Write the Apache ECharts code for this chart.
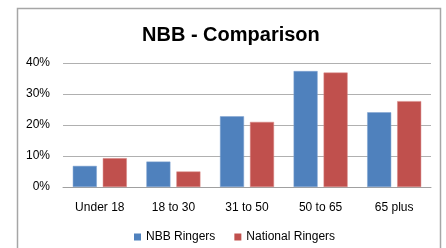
<!DOCTYPE html>
<html><head><meta charset="utf-8">
<script src="https://cdn.jsdelivr.net/npm/echarts@6/dist/echarts.min.js"></script>
<style>html,body{margin:0;padding:0;background:#fff}#c{width:446px;height:248px}</style>
</head><body><div id="c"></div>
<script>
const categories = ['Under 18', '18 to 30', '31 to 50', '50 to 65', '65 plus'];
const nbbRingers = [6.8, 8.2, 22.8, 37.4, 24.1];
const nationalRingers = [9.3, 5.0, 21.0, 36.9, 27.7];
const yTicks = [0, 10, 20, 30, 40];
const FONT = 'Liberation Sans';

const chart = echarts.init(document.getElementById('c'), null, {renderer: 'canvas'});
chart.setOption({
  animation: false,
  backgroundColor: '#fff',
  textStyle: {fontFamily: FONT},
  title: {
    text: 'NBB - Comparison', left: 137, top: 20,
    textStyle: {fontFamily: FONT, fontSize: 20, fontWeight: 'bold', color: '#000'}
  },
  graphic: [{
    type: 'rect', shape: {x: 17.5, y: 8.5, width: 423, height: 260},
    style: {fill: 'none', stroke: '#a6a6a6', lineWidth: 1.5}, silent: true
  }],
  legend: {
    top: 226, left: 129, itemWidth: 7, itemHeight: 7, itemGap: 19,
    icon: 'rect',
    itemStyle: {borderWidth: 0},
    textStyle: {fontFamily: FONT, fontSize: 12, color: '#000'},
    data: ['NBB Ringers', 'National Ringers']
  },
  grid: {left: 63, right: 15, top: 63, bottom: 61, containLabel: false},
  xAxis: {
    type: 'category', data: categories,
    axisLine: {lineStyle: {color: '#a0a0a0', width: 1}},
    axisTick: {show: false},
    axisLabel: {fontFamily: FONT, fontSize: 12, color: '#000', margin: 15}
  },
  yAxis: {
    type: 'value', min: yTicks[0], max: yTicks[yTicks.length - 1], interval: 10,
    axisLine: {show: false}, axisTick: {show: false},
    splitLine: {lineStyle: {color: '#b0b0b0', width: 1}},
    axisLabel: {fontFamily: FONT, fontSize: 12, color: '#000', margin: 13, formatter: v => v + '%'}
  },
  series: [
    {name: 'NBB Ringers', type: 'bar', data: nbbRingers, barWidth: 24, barGap: '25%',
     itemStyle: {color: '#4F81BD', borderColor: '#7ea3d0', borderWidth: 0.5}},
    {name: 'National Ringers', type: 'bar', data: nationalRingers, barWidth: 24,
     itemStyle: {color: '#C0504D', borderColor: '#d98784', borderWidth: 0.5}}
  ]
});
</script></body></html>
